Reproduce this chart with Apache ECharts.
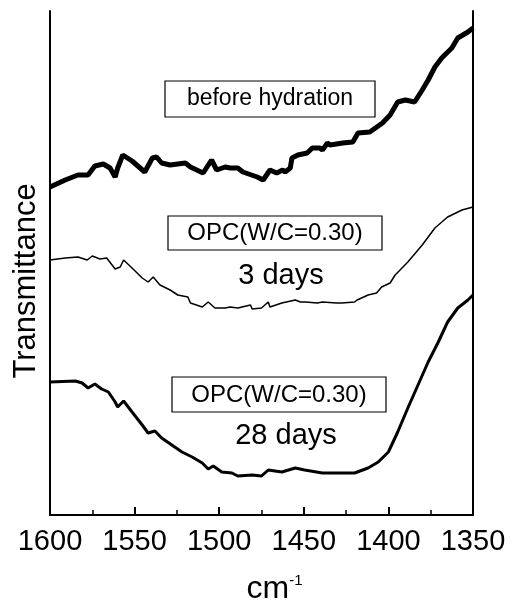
<!DOCTYPE html>
<html>
<head>
<meta charset="utf-8">
<script src="https://cdn.jsdelivr.net/npm/echarts@6/dist/echarts.min.js"></script>
<style>
  html, body { margin: 0; padding: 0; background: #fff; }
  #chart { width: 520px; height: 605px; }
</style>
</head>
<body>
<div id="chart"></div>
<script>
// wavenumber (cm-1), transmittance (arbitrary offset units)
const beforeHydration = [
  [1600, 328], [1591, 335], [1583.5, 340], [1577.5, 340], [1573.5, 349],
  [1568.5, 351], [1564.5, 347], [1561.5, 338], [1560, 347], [1557, 360],
  [1551.5, 354], [1544, 343], [1539.5, 357], [1537, 358], [1534, 352],
  [1529, 350], [1520, 352], [1517, 348], [1514.5, 346], [1509.5, 342],
  [1508.5, 342], [1504.5, 355], [1501.5, 345], [1496.5, 348], [1493.5, 347],
  [1489, 347], [1486, 343], [1485, 343], [1477.5, 338], [1474, 335],
  [1470, 345], [1466, 342], [1462.5, 345], [1461, 343], [1458, 347],
  [1457, 357], [1453.5, 360], [1448, 362], [1445, 367], [1440.5, 367],
  [1439, 365], [1436, 372], [1434.5, 370], [1427, 372], [1421, 373],
  [1418, 382], [1411, 383], [1403.5, 392], [1399, 400], [1398, 402],
  [1394.5, 413], [1390, 415], [1384.5, 413], [1380, 425], [1376.5, 435],
  [1372.5, 448], [1368.5, 457], [1362.5, 467], [1359, 477], [1353, 483],
  [1350, 487]
];

const opc3days = [
  [1600, 255], [1591, 257], [1583.5, 258], [1578, 255], [1575, 259],
  [1570.5, 256], [1566.5, 257], [1561.5, 246], [1558.5, 248], [1556.5, 255],
  [1551.5, 247], [1545.5, 237], [1542, 233], [1539, 238], [1535, 230],
  [1529, 225], [1524.5, 220], [1518.5, 218], [1517, 212], [1510, 208],
  [1506.5, 213], [1505.5, 213], [1502.5, 207], [1496.5, 207], [1493.5, 208],
  [1489, 207], [1481.5, 210], [1480.5, 206], [1475, 207], [1471, 213],
  [1470, 208], [1463, 212], [1455, 215], [1452, 213], [1449, 213],
  [1442, 212], [1439, 213], [1430.5, 212], [1427.5, 212], [1420, 213],
  [1418.5, 215], [1412, 220], [1407, 222], [1404, 228], [1399, 232],
  [1396, 240], [1388.5, 253], [1380, 270], [1372.5, 287], [1365, 298],
  [1356.5, 305], [1350, 308]
];

const opc28days = [
  [1600, 133], [1585, 134], [1581, 132], [1577.5, 127], [1573.5, 131],
  [1569.5, 126], [1565.5, 123], [1561.5, 113], [1560, 108], [1556.5, 114],
  [1551.5, 103], [1545.5, 90], [1542, 82], [1538, 84], [1534, 77],
  [1528, 70], [1522, 63], [1516, 58], [1510, 52], [1506.5, 46],
  [1503.5, 49], [1498.5, 43], [1492.5, 42], [1489, 39], [1480.5, 40],
  [1475, 39], [1471, 45], [1463, 43], [1455, 47], [1449.5, 45],
  [1439, 42], [1420, 42], [1412, 47], [1406, 53], [1400, 63],
  [1394.5, 83], [1388.5, 107], [1382.5, 130], [1376.5, 153], [1370.5, 173],
  [1365, 193], [1359, 207], [1353, 215], [1350, 220]
];

const xTicks = [1600, 1550, 1500, 1450, 1400, 1350];

const font = "'Liberation Sans', Arial, sans-serif";
const chart = echarts.init(document.getElementById("chart"));

chart.setOption({
  animation: false,
  backgroundColor: "#fff",
  grid: { left: 50, right: 47, top: 11, bottom: 90, containLabel: false, outerBoundsMode: "none" },
  xAxis: [
    {
      type: "value",
      min: 1350,
      max: 1600,
      interval: 50,
      inverse: true,
      axisLine: { lineStyle: { color: "#000", width: 2 } },
      axisTick: { inside: true, length: 8, lineStyle: { color: "#000", width: 2 } },
      minorTick: { show: true, splitNumber: 2, length: 5, lineStyle: { color: "#000", width: 1.5 } },
      splitLine: { show: false },
      axisLabel: {
        color: "#000",
        fontSize: 29,
        fontFamily: font,
        margin: 12,
        formatter: (v) => (xTicks.includes(v) ? String(v) : "")
      },
      name: "{a|cm}{b|-1}",
      nameLocation: "middle",
      nameGap: 58,
      nameTextStyle: {
        padding: [0, 0, 0, 26],
        rich: {
          a: { fontSize: 32, fontFamily: font, color: "#000" },
          b: { fontSize: 15, fontFamily: font, color: "#000", verticalAlign: "top", padding: [0, 0, 18, 0] }
        }
      }
    },
    {
      type: "value",
      position: "top",
      min: 1350,
      max: 1600,
      inverse: true,
      axisLine: { show: true, lineStyle: { color: "#000", width: 2 } },
      axisTick: { show: false },
      axisLabel: { show: false },
      splitLine: { show: false }
    }
  ],
  yAxis: [
    {
      type: "value",
      min: 0,
      max: 504,
      axisLine: { show: true, lineStyle: { color: "#000", width: 2 } },
      axisTick: { show: false },
      axisLabel: { show: false },
      splitLine: { show: false }
    },
    {
      type: "value",
      position: "right",
      min: 0,
      max: 504,
      axisLine: { show: true, lineStyle: { color: "#000", width: 2 } },
      axisTick: { show: false },
      axisLabel: { show: false },
      splitLine: { show: false }
    }
  ],
  series: [
    {
      name: "before hydration",
      type: "line",
      data: beforeHydration,
      showSymbol: false,
      lineStyle: { color: "#000", width: 5 }
    },
    {
      name: "OPC 3 days",
      type: "line",
      data: opc3days,
      showSymbol: false,
      lineStyle: { color: "#000", width: 1.5 }
    },
    {
      name: "OPC 28 days",
      type: "line",
      data: opc28days,
      showSymbol: false,
      lineStyle: { color: "#000", width: 3 }
    }
  ],
  graphic: [
    {
      // y axis title
      type: "text",
      x: 26, y: 281,
      rotation: Math.PI / 2,
      style: { text: "Transmittance", font: "31px " + font, fill: "#000", align: "center", verticalAlign: "middle" }
    },
    {
      type: "rect",
      shape: { x: 165, y: 81, width: 210, height: 36 },
      style: { fill: "#fff", stroke: "#000", lineWidth: 1.2 }
    },
    {
      type: "text",
      x: 270, y: 99,
      style: { text: "before hydration", font: "23px " + font, fill: "#000", align: "center", verticalAlign: "middle" }
    },
    {
      type: "rect",
      shape: { x: 168, y: 216, width: 214, height: 34 },
      style: { fill: "#fff", stroke: "#000", lineWidth: 1.2 }
    },
    {
      type: "text",
      x: 275, y: 233,
      style: { text: "OPC(W/C=0.30)", font: "24px " + font, fill: "#000", align: "center", verticalAlign: "middle" }
    },
    {
      type: "text",
      x: 281, y: 276,
      style: { text: "3 days", font: "29px " + font, fill: "#000", align: "center", verticalAlign: "middle" }
    },
    {
      type: "rect",
      shape: { x: 172, y: 377, width: 214, height: 35 },
      style: { fill: "#fff", stroke: "#000", lineWidth: 1.2 }
    },
    {
      type: "text",
      x: 279, y: 395,
      style: { text: "OPC(W/C=0.30)", font: "24px " + font, fill: "#000", align: "center", verticalAlign: "middle" }
    },
    {
      type: "text",
      x: 286, y: 436,
      style: { text: "28 days", font: "29px " + font, fill: "#000", align: "center", verticalAlign: "middle" }
    }
  ]
});
</script>
</body>
</html>
